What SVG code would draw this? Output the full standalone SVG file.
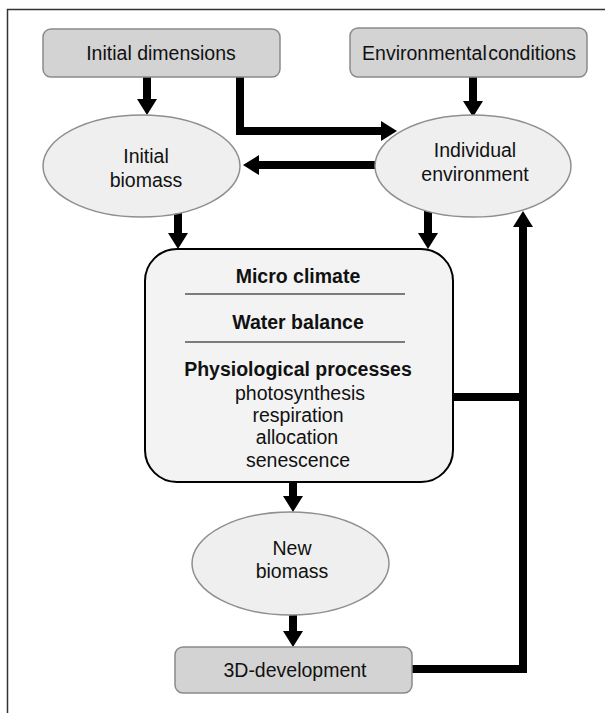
<svg xmlns="http://www.w3.org/2000/svg" width="605" height="713" viewBox="0 0 605 713">
<style>
  text { font-family: "Liberation Sans", Arial, sans-serif; fill: #111; text-anchor: middle; }
  .reg { font-size: 19.5px; }
  .bold { font-size: 19.5px; font-weight: bold; }
  .gbox { fill: #d3d3d3; stroke: #8a8a8a; stroke-width: 1.5; }
  .ell { fill: #efefef; stroke: #8f8f8f; stroke-width: 1.5; }
  .conn { fill: none; stroke: #000; stroke-width: 8; }
  .sep { stroke: #555; stroke-width: 1.5; }
</style>
<defs>
  <marker id="ah" markerUnits="userSpaceOnUse" markerWidth="18" markerHeight="22" refX="0" refY="10" orient="auto" overflow="visible">
    <path d="M0,0 L16,10 L0,20 z" fill="#000"/>
  </marker>
</defs>
<rect width="605" height="713" fill="#fff"/>
<g id="frame">
  <path d="M7.5,713 V9.5 H605" fill="none" stroke="#333" stroke-width="1.5"/>
</g>
<g id="connectors">
  <path class="conn" d="M147,77 V99" marker-end="url(#ah)"/>
  <path class="conn" d="M240,77 V131 H381" marker-end="url(#ah)"/>
  <path class="conn" d="M473,77 V101" marker-end="url(#ah)"/>
  <path class="conn" d="M375,165 H259" marker-end="url(#ah)"/>
  <path class="conn" d="M178,213 V233" marker-end="url(#ah)"/>
  <path class="conn" d="M428,211 V233" marker-end="url(#ah)"/>
  <path class="conn" d="M412,669 H523 V227" marker-end="url(#ah)"/>
  <path class="conn" d="M453,397 H523"/>
  <path class="conn" d="M293,482 V496" marker-end="url(#ah)"/>
  <path class="conn" d="M293,615 V631" marker-end="url(#ah)"/>
</g>
<g id="initial-dimensions">
  <rect class="gbox" x="43" y="29" width="237" height="48" rx="8"/>
  <text class="reg" x="161" y="60">Initial dimensions</text>
</g>
<g id="environmental-conditions">
  <rect class="gbox" x="350" y="28" width="237" height="49" rx="8"/>
  <text class="reg" x="469" y="60" word-spacing="-4">Environmental conditions</text>
</g>
<g id="initial-biomass">
  <ellipse class="ell" cx="141.5" cy="166" rx="98.5" ry="51"/>
  <text class="reg" x="146" y="163">Initial</text>
  <text class="reg" x="146" y="187">biomass</text>
</g>
<g id="individual-environment">
  <ellipse class="ell" cx="473" cy="166" rx="98" ry="51"/>
  <text class="reg" x="475" y="157">Individual</text>
  <text class="reg" x="475" y="181">environment</text>
</g>
<g id="processes">
  <rect x="145" y="249" width="308" height="233" rx="32" fill="#f3f3f3" stroke="#000" stroke-width="2"/>
  <text class="bold" x="298" y="283">Micro climate</text>
  <line class="sep" x1="185" y1="294" x2="405" y2="294"/>
  <text class="bold" x="298" y="329">Water balance</text>
  <line class="sep" x1="185" y1="342" x2="405" y2="342"/>
  <text class="bold" x="298" y="376">Physiological processes</text>
  <text class="reg" x="300" y="400">photosynthesis</text>
  <text class="reg" x="298" y="422">respiration</text>
  <text class="reg" x="297" y="444">allocation</text>
  <text class="reg" x="298" y="467">senescence</text>
</g>
<g id="new-biomass">
  <ellipse class="ell" cx="290.5" cy="563.5" rx="98.5" ry="51.5"/>
  <text class="reg" x="292" y="555">New</text>
  <text class="reg" x="292" y="578">biomass</text>
</g>
<g id="development-3d">
  <rect class="gbox" x="175" y="647" width="237" height="46" rx="8"/>
  <text class="reg" x="295" y="677">3D-development</text>
</g>
</svg>
